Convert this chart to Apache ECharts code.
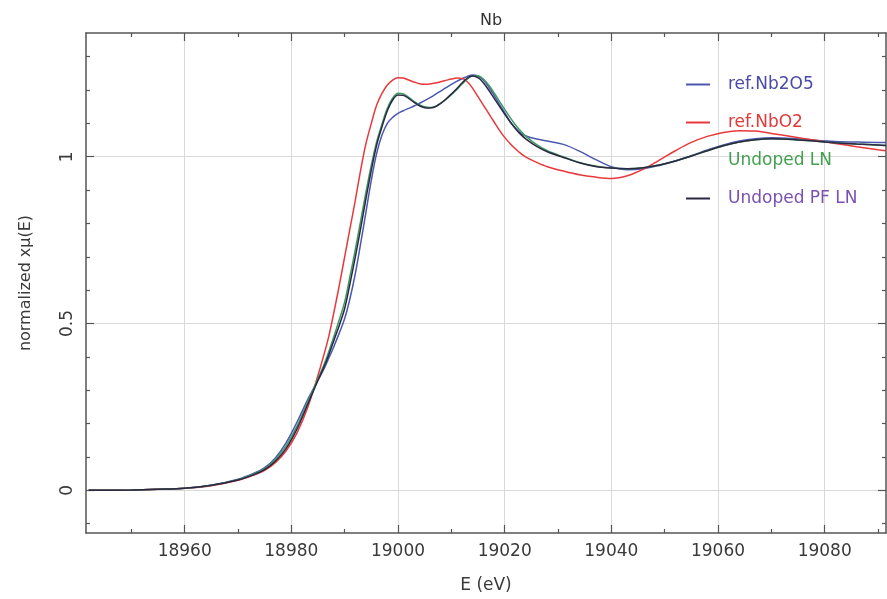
<!DOCTYPE html>
<html>
<head>
<meta charset="utf-8">
<script src="https://cdn.jsdelivr.net/npm/echarts@6/dist/echarts.min.js"></script>
<style>
  html, body { margin: 0; padding: 0; background: #fff; }
  #chart { width: 887px; height: 599px; }
</style>
</head>
<body>
<div id="chart"></div>
<script>
// energy grid (eV) shared by all spectra
const energies = [18942, 18950, 18955, 18960, 18965, 18970, 18973, 18975, 18977, 18979, 18981, 18983,
  18985, 18986, 18987, 18988, 18989, 18990, 18991, 18992, 18993, 18994, 18995, 18996, 18997, 18998, 18999,
  19000, 19001, 19002, 19003, 19004, 19005, 19006, 19007, 19008, 19009, 19010, 19011, 19012, 19013, 19014,
  19015, 19016, 19017, 19018, 19019, 19020, 19021, 19022, 19023, 19024,
  19026, 19028, 19031, 19034, 19037, 19040, 19043, 19046, 19049, 19052, 19055, 19058, 19061, 19064, 19067,
  19070, 19074, 19078, 19082, 19086, 19090, 19091.5]

const nb2o5 = [0, 0.001, 0.003, 0.006, 0.015, 0.033, 0.051, 0.068, 0.097, 0.142, 0.202, 0.27,
  0.33, 0.36, 0.395, 0.432, 0.472, 0.515, 0.575, 0.65, 0.74, 0.835, 0.93, 1.01, 1.065, 1.1, 1.118,
  1.13, 1.138, 1.145, 1.152, 1.16, 1.168, 1.177, 1.187, 1.197, 1.207, 1.217, 1.226, 1.234, 1.241, 1.245,
  1.242, 1.23, 1.21, 1.185, 1.158, 1.132, 1.106, 1.086, 1.071, 1.062,
  1.053, 1.047, 1.037, 1.017, 0.992, 0.97, 0.961, 0.964, 0.974, 0.987, 1.003, 1.02, 1.035, 1.047, 1.054,
  1.057, 1.055, 1.05, 1.046, 1.044, 1.043, 1.043]

const nbo2 = [0, 0.001, 0.003, 0.006, 0.014, 0.03, 0.046, 0.06, 0.083, 0.118, 0.17, 0.245,
  0.345, 0.4, 0.46, 0.535, 0.615, 0.7, 0.785, 0.87, 0.96, 1.04, 1.1, 1.155, 1.19, 1.215, 1.23,
  1.237, 1.236, 1.23, 1.224, 1.219, 1.217, 1.218, 1.221, 1.225, 1.229, 1.233, 1.236, 1.235, 1.225, 1.205,
  1.18, 1.155, 1.13, 1.105, 1.08, 1.058, 1.04, 1.024, 1.01, 0.999,
  0.983, 0.97, 0.957, 0.946, 0.939, 0.935, 0.943, 0.963, 0.99, 1.018, 1.043, 1.061, 1.073, 1.078, 1.077,
  1.07, 1.06, 1.05, 1.04, 1.03, 1.021, 1.018]

const undopedLN = [0, 0.001, 0.003, 0.006, 0.015, 0.032, 0.049, 0.065, 0.092, 0.133, 0.19, 0.262,
  0.335, 0.372, 0.415, 0.462, 0.512, 0.565, 0.642, 0.722, 0.808, 0.895, 0.975, 1.045, 1.098, 1.145, 1.176,
  1.19, 1.188, 1.178, 1.166, 1.156, 1.15, 1.148, 1.151, 1.16, 1.172, 1.186, 1.201, 1.218, 1.233, 1.243,
  1.243, 1.233, 1.215, 1.192, 1.167, 1.142, 1.118, 1.096, 1.077, 1.061,
  1.036, 1.018, 1.0, 0.983, 0.972, 0.966, 0.964, 0.967, 0.975, 0.987, 1.002, 1.018, 1.033, 1.044, 1.051,
  1.054, 1.052, 1.047, 1.042, 1.038, 1.035, 1.034]

const undopedPFLN = [0, 0.001, 0.003, 0.006, 0.015, 0.031, 0.047, 0.062, 0.087, 0.125, 0.182, 0.255,
  0.33, 0.365, 0.405, 0.45, 0.495, 0.545, 0.62, 0.7, 0.785, 0.875, 0.96, 1.035, 1.09, 1.138, 1.17,
  1.185, 1.184, 1.175, 1.163, 1.153, 1.147, 1.146, 1.15, 1.16, 1.173, 1.188, 1.204, 1.221, 1.236, 1.242,
  1.237, 1.222, 1.2, 1.176, 1.152, 1.128, 1.105, 1.085, 1.067, 1.053,
  1.031, 1.015, 0.998, 0.982, 0.971, 0.966, 0.964, 0.967, 0.975, 0.987, 1.002, 1.018, 1.033, 1.044, 1.051,
  1.054, 1.052, 1.047, 1.042, 1.038, 1.035, 1.034]

const seriesNames = ['ref.Nb2O5', 'ref.NbO2', 'Undoped LN', 'Undoped PF LN']
const lineColors = ['#4a58b0', '#e8383c', '#3c9a62', '#2c2742']
const textColors = ['#4a4aa8', '#e03a3a', '#44a050', '#7a50b0']

const xMajor = [18960, 18980, 19000, 19020, 19040, 19060, 19080]
const xMinor = [18950, 18970, 18990, 19010, 19030, 19050, 19070, 19090]
const yMajor = [0, 0.5, 1]
const yMinor = [-0.1, 0.1, 0.2, 0.3, 0.4, 0.6, 0.7, 0.8, 0.9, 1.1, 1.2, 1.3]

const X_MIN = 18941.5, X_MAX = 19091.5
const Y_MIN = -0.128, Y_MAX = 1.371

const font = 'DejaVu Sans'
const axisColor = '#555'

function xAx(pos, ticks, len, main) {
  return {
    type: 'value', position: pos, min: X_MIN, max: X_MAX,
    axisLine: { show: main, onZero: false, lineStyle: { color: axisColor, width: 1.5 } },
    axisTick: { show: true, inside: true, length: len, customValues: ticks, lineStyle: { color: axisColor, width: 1.2 } },
    axisLabel: {
      show: main && pos === 'bottom', customValues: ticks, margin: 10,
      formatter: v => String(v),
      fontFamily: font, fontSize: 17, color: '#3a3a3a'
    },
    splitLine: { show: main && pos === 'bottom', lineStyle: { color: '#d9d9d9', width: 1 } },
    name: main && pos === 'bottom' ? 'E (eV)' : '',
    nameLocation: 'middle', nameGap: 44,
    nameTextStyle: { fontFamily: font, fontSize: 17, color: '#3a3a3a' }
  }
}

function yAx(pos, ticks, len, main) {
  return {
    type: 'value', position: pos, min: Y_MIN, max: Y_MAX,
    axisLine: { show: main, onZero: false, lineStyle: { color: axisColor, width: 1.5 } },
    axisTick: { show: true, inside: true, length: len, customValues: ticks, lineStyle: { color: axisColor, width: 1.2 } },
    axisLabel: {
      show: main && pos === 'left', customValues: ticks, rotate: 90, margin: 10,
      fontFamily: font, fontSize: 17, color: '#3a3a3a'
    },
    splitLine: { show: main && pos === 'left', lineStyle: { color: '#d9d9d9', width: 1 } },
    name: main && pos === 'left' ? 'normalized xμ(E)' : '',
    nameLocation: 'middle', nameGap: 52, nameRotate: 90,
    nameTextStyle: { fontFamily: font, fontSize: 16, color: '#3a3a3a' }
  }
}

const spectra = [nb2o5, nbo2, undopedLN, undopedPFLN]

const chart = echarts.init(document.getElementById('chart'))
chart.setOption({
  animation: false,
  backgroundColor: '#fff',
  title: {
    text: 'Nb', left: 486, top: 8, textAlign: 'center',
    textStyle: { fontFamily: font, fontSize: 16, fontWeight: 'normal', color: '#333' }
  },
  grid: { left: 86, top: 33, right: 1, bottom: 66 },
  legend: {
    orient: 'vertical', left: 681, top: 71,
    icon: 'rect', itemWidth: 24, itemHeight: 2, itemGap: 21,
    textStyle: { fontFamily: font, fontSize: 17, padding: [0, 0, 0, 13] },
    data: seriesNames.map((n, i) => ({
      name: n,
      textStyle: { color: textColors[i] },
      itemStyle: i === 2 ? { opacity: 0 } : { color: lineColors[i] }
    }))
  },
  xAxis: [
    xAx('bottom', xMajor, 8, true),
    xAx('top', xMajor, 8, true),
    xAx('bottom', xMinor, 4, false),
    xAx('top', xMinor, 4, false)
  ],
  yAxis: [
    yAx('left', yMajor, 8, true),
    yAx('right', yMajor, 8, true),
    yAx('left', yMinor, 4, false),
    yAx('right', yMinor, 4, false)
  ],
  series: spectra.map((vals, i) => ({
    name: seriesNames[i],
    type: 'line',
    showSymbol: false,
    symbol: 'none',
    smooth: 0.35,
    color: lineColors[i],
    lineStyle: { color: lineColors[i], width: 1.5 },
    data: energies.map((e, k) => [e, vals[k]])
  }))
})
</script>
</body>
</html>
